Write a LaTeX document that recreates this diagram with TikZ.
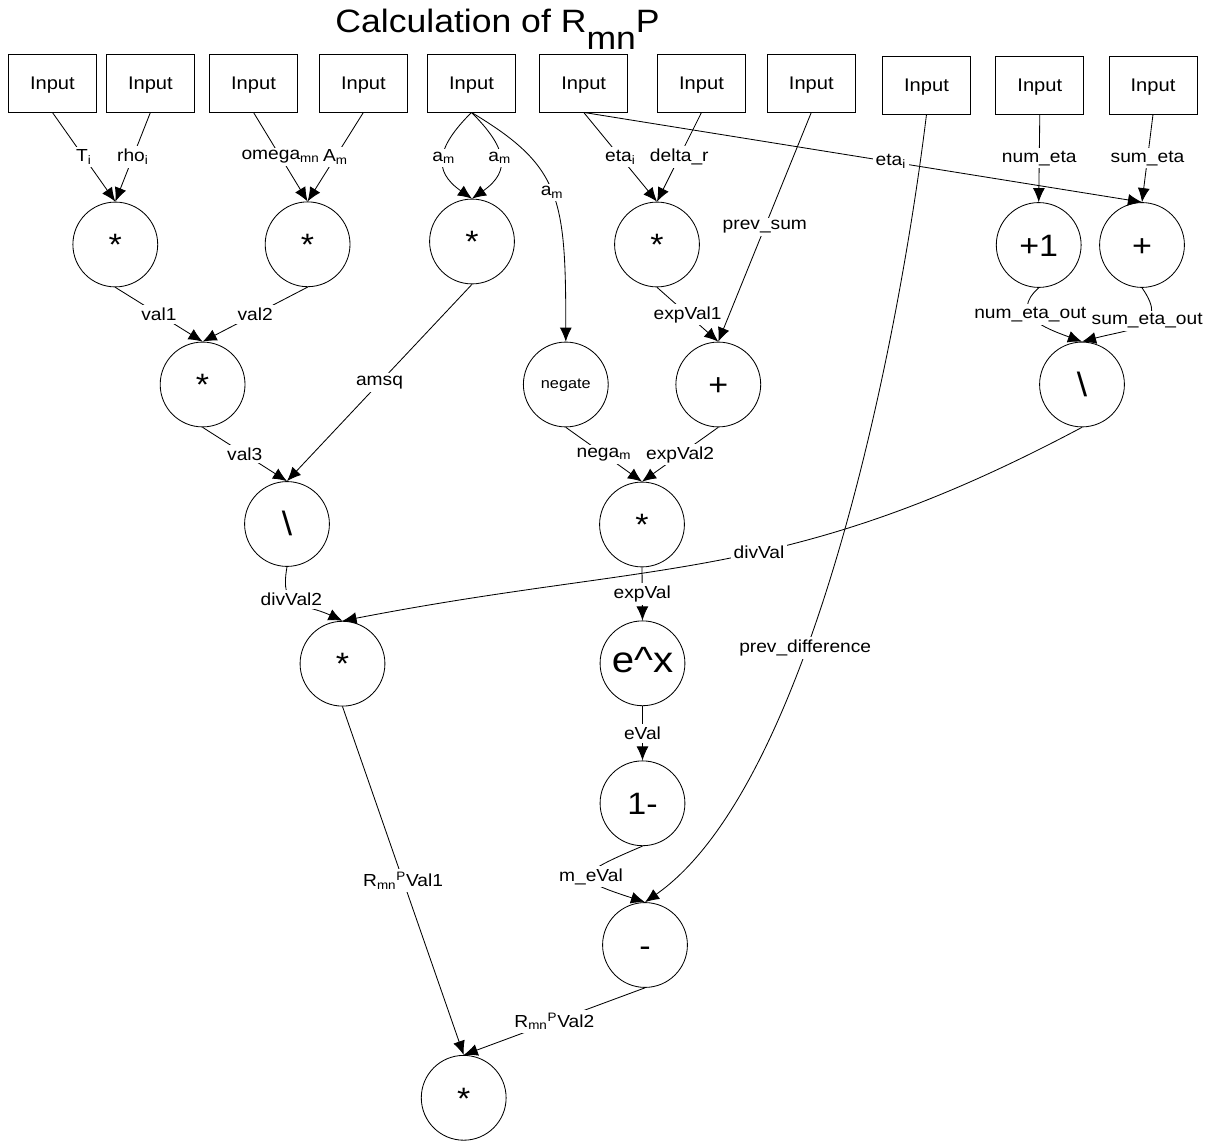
\documentclass[tikz,border=0pt]{standalone}
\usepackage{fontspec}
\setmainfont{Liberation Sans}[FakeStretch=1.1]
\usetikzlibrary{arrows.meta}

\begin{document}
\begin{tikzpicture}[x=0.025cm, y=0.025cm, line width=0.6pt,
    >={Latex[length=10pt,width=8.5pt]},
    inbox/.style={draw, minimum width=2.2cm, minimum height=1.45cm, inner sep=0pt, text depth=0pt, font=\fontsize{13}{15}\selectfont},
    op/.style={draw, circle, minimum size=2.12cm, inner sep=0pt, text height=16pt, text depth=0pt, font=\fontsize{22}{26}\selectfont},
    lbl/.style={fill=white, inner sep=2pt, font=\fontsize{12.4}{14}\selectfont}]
        \useasboundingbox (0,0) rectangle (1211,-1141);

        \node[anchor=base west, inner sep=0pt, font=\fontsize{23}{27}\selectfont] (title) at (335,-32.7) {Calculation of R\raisebox{-12.3pt}{mn}P};

        \node[inbox] (in1) at (52.4,-83) {Input};
        \node[inbox] (in2) at (150.4,-83) {Input};
        \node[inbox] (in3) at (253.5,-83) {Input};
        \node[inbox] (in4) at (363.4,-83) {Input};
        \node[inbox] (in5) at (471.5,-83) {Input};
        \node[inbox] (in6) at (583.7,-83) {Input};
        \node[inbox] (in7) at (701.5,-83) {Input};
        \node[inbox] (in8) at (811.3,-83) {Input};
        \node[inbox] (in9) at (926.5,-85) {Input};
        \node[inbox] (in10) at (1039.8,-85) {Input};
        \node[inbox] (in11) at (1153,-85) {Input};

        \node[op] (mulT) at (115.3,-244.5) {*};
        \node[op] (mulW) at (307.6,-244.3) {*};
        \node[op] (sqA) at (472,-241.5) {*};
        \node[op] (mulE) at (657,-244.5) {*};
        \node[op] (inc) at (1038.7,-245) {+1};
        \node[op] (sumE) at (1142,-245) {+};

        \node[op] (mulV) at (202.6,-384.5) {*};
        \node[op, text height=5.5pt, font=\fontsize{10.5}{12}\selectfont] (neg) at (565.8,-384.5) {negate};
        \node[op] (addE) at (718.3,-384.5) {+};
        \node[op, text height=17pt, font=\fontsize{24}{28}\selectfont] (divE) at (1082,-384.5) {\textbackslash};

        \node[op, text height=17pt, font=\fontsize{24}{28}\selectfont] (divA) at (287,-524) {\textbackslash};
        \node[op] (mulX) at (642,-524.5) {*};
        \node[op] (mulD) at (342.5,-663.7) {*};
        \node[op, text height=13.5pt, font=\fontsize{26}{30}\selectfont] (expX) at (642.5,-663.3) {e\textasciicircum x};
        \node[op] (oneM) at (642.5,-803.3) {1-};
        \node[op] (diff) at (645,-945) {-};
        \node[op] (res) at (463.7,-1097.8) {*};

        \draw[->] (in1.south) to node[lbl]{T\textsubscript{i}} (mulT.north);
        \draw[->] (in2.south) to node[lbl]{rho\textsubscript{i}} (mulT.north);
        \draw[->] (in3.south) to node[lbl]{omega\textsubscript{mn}} (mulW.north);
        \draw[->] (in4.south) to node[lbl]{A\textsubscript{m}} (mulW.north);
        \draw[->] (in5.south) to[out=225,in=145,looseness=1.45] node[lbl]{a\textsubscript{m}} (sqA.north);
        \draw[->] (in5.south) to[out=-45,in=35,looseness=1.45] node[lbl]{a\textsubscript{m}} (sqA.north);
        \draw[->] (in5.south) to[out=-31,in=90,out distance=2.6cm,in distance=3.64cm] node[lbl]{a\textsubscript{m}} (neg.north);
        \draw[->] (in6.south) to node[lbl]{eta\textsubscript{i}} (mulE.north);
        \draw[->] (in7.south) to node[lbl]{delta\_r} (mulE.north);
        \draw[->] (in6.south) to node[lbl,pos=0.55]{eta\textsubscript{i}} (sumE.north);
        \draw[->] (in8.south) to node[lbl]{prev\_sum} (addE.north);
        \draw[->] (in10.south) to node[lbl]{num\_eta} (inc.north);
        \draw[->] (in11.south) to node[lbl]{sum\_eta} (sumE.north);

        \draw[->] (mulT.south) to node[lbl]{val1} (mulV.north);
        \draw[->] (mulW.south) to node[lbl]{val2} (mulV.north);
        \draw[->] (sqA.south) to node[lbl]{amsq} (divA.north);
        \draw[->] (mulV.south) to node[lbl]{val3} (divA.north);
        \draw[->] (mulE.south) to node[lbl]{expVal1} (addE.north);
        \draw[->] (inc.south) to[out=222,in=160,distance=1cm] node[lbl,pos=0.4]{num\_eta\_out} (divE.north);
        \draw[->] (sumE.south) to[out=-55,in=15,distance=1.25cm] node[lbl,pos=0.4]{sum\_eta\_out} (divE.north);
        \draw[->] (neg.south) to node[lbl]{nega\textsubscript{m}} (mulX.north);
        \draw[->] (addE.south) to node[lbl]{expVal2} (mulX.north);
        \draw[->] (divA.south) to[out=-100,in=155,distance=1.125cm] node[lbl,pos=0.4]{divVal2} (mulD.north);
        \draw[->] (mulX.south) to node[lbl]{expVal} (expX.north);
        \draw[->] (divE.south) to[out=208,in=11,out distance=8.39cm,in distance=8.08cm] node[lbl,pos=0.44]{divVal} (mulD.north);
        \draw[->] (expX.south) to node[lbl]{eVal} (oneM.north);
        \draw[->] (oneM.south) to[out=203,in=162,distance=1.88cm] node[lbl]{m\_eVal} (diff.north);
        \draw[->] (in9.south) to[out=-97,in=35,out distance=6.3cm,in distance=4.94cm] node[lbl,pos=0.6]{prev\_difference} (diff.north);
        \draw[->] (mulD.south) to node[lbl]{R\textsubscript{mn}\textsuperscript{P}Val1} (res.north);
        \draw[->] (diff.south) to node[lbl]{R\textsubscript{mn}\textsuperscript{P}Val2} (res.north);
    \end{tikzpicture}
\end{document}
